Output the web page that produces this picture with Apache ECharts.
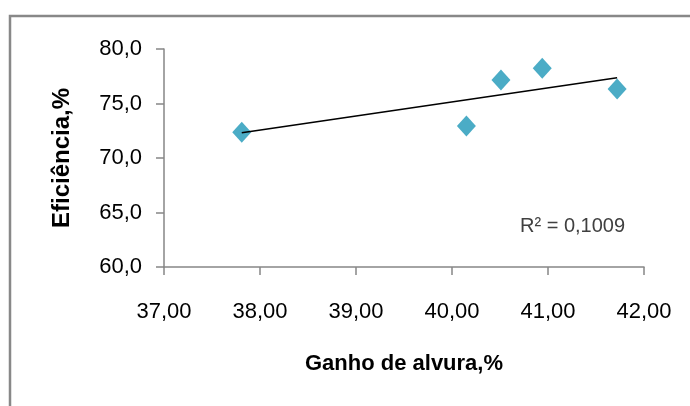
<!DOCTYPE html>
<html>
<head>
<meta charset="utf-8">
<script src="https://cdn.jsdelivr.net/npm/echarts@6/dist/echarts.min.js"></script>
<style>
  html, body { margin: 0; padding: 0; background: #fff; }
  #chart { width: 690px; height: 406px; }
</style>
</head>
<body>
<div id="chart"></div>
<script>
// Ganho de alvura (%) vs. eficiência (%)
const ganhoAlvura = [37.81, 40.15, 40.51, 40.94, 41.72];
const eficiencia = [72.36, 72.94, 77.16, 78.23, 76.33];

// Linear trend line endpoints
const trendX = [37.81, 41.72];
const trendY = [72.32, 77.37];
const r2Label = 'R² = 0,1009';

const xTicks = { min: 37, max: 42, step: 1 };
const yTicks = { min: 60, max: 80, step: 5 };

const axisColor = '#868686';
const font = '"Liberation Sans", sans-serif';

const chart = echarts.init(document.getElementById('chart'), null, { renderer: 'canvas' });

const comma = (v, d) => v.toFixed(d).replace('.', ',');

chart.setOption({
  animation: false,
  backgroundColor: '#fff',
  grid: { left: 164, right: 46, top: 49, bottom: 139 },
  xAxis: {
    type: 'value',
    min: xTicks.min, max: xTicks.max, interval: xTicks.step,
    name: 'Ganho de alvura,%',
    nameLocation: 'middle',
    nameGap: 86,
    nameTextStyle: { fontFamily: font, fontWeight: 'bold', fontSize: 22, color: '#000' },
    axisLine: { show: true, onZero: false, lineStyle: { color: axisColor, width: 1.5 } },
    axisTick: { show: true, inside: false, length: 8, lineStyle: { color: axisColor, width: 1.5 } },
    axisLabel: { margin: 34, fontFamily: font, fontSize: 22, color: '#000', formatter: v => comma(v, 2) },
    splitLine: { show: false }
  },
  yAxis: {
    type: 'value',
    min: yTicks.min, max: yTicks.max, interval: yTicks.step,
    name: 'Eficiência,%',
    nameLocation: 'middle',
    nameGap: 90,
    nameRotate: 90,
    nameTextStyle: { fontFamily: font, fontWeight: 'bold', fontSize: 24, color: '#000' },
    axisLine: { show: true, onZero: false, lineStyle: { color: axisColor, width: 1.5 } },
    axisTick: { show: true, inside: false, length: 8, lineStyle: { color: axisColor, width: 1.5 } },
    axisLabel: { margin: 22, fontFamily: font, fontSize: 22, color: '#000', formatter: v => comma(v, 1) },
    splitLine: { show: false }
  },
  series: [
    {
      type: 'line',
      data: trendX.map((x, i) => [x, trendY[i]]),
      showSymbol: false,
      symbol: 'none',
      lineStyle: { color: '#000', width: 1.6 },
      z: 3,
      silent: true
    },
    {
      type: 'scatter',
      data: ganhoAlvura.map((x, i) => [x, eficiencia[i]]),
      symbol: 'diamond',
      symbolSize: [19, 21],
      itemStyle: { color: '#4BACC6', opacity: 1 },
      z: 2
    }
  ],
  graphic: [
    {
      type: 'polyline',
      shape: { points: [[10, 406], [10, 16], [690, 16]] },
      style: { stroke: '#888', lineWidth: 2.5, fill: null },
      silent: true
    },
    {
      type: 'text',
      left: 520,
      top: 216,
      style: { text: r2Label, font: '20px ' + font, fill: '#404040' }
    }
  ]
});
</script>
</body>
</html>
